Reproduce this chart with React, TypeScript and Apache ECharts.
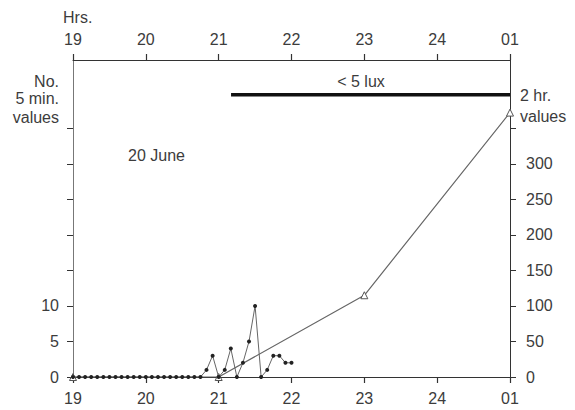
import React, { useEffect, useRef } from "react";
import * as echarts from "echarts";

// 5-minute counts, starting 19:00, one value every 5 minutes (left axis)
const fiveMinValues = [
  0, 0, 0, 0, 0, 0, 0, 0, 0, 0, 0, 0,
  0, 0, 0, 0, 0, 0, 0, 0, 0, 0,
  1, 3, 0, 1, 4, 0, 2, 5, 10, 0, 1, 3, 3, 2, 2,
];
// 2-hour values (right axis); hour 25 = 01
const twoHrHours = [19, 21, 23, 25];
const twoHrValues = [0, 0, 115, 372];
// "< 5 lux" period
const luxStart = 21.17;
const luxEnd = 25;
const luxLevel = 39.7;

const hourTicks = [19, 20, 21, 22, 23, 24, 25];
const hourLabels = ["19", "20", "21", "22", "23", "24", "01"];
const leftTicks = [0, 5, 10, 15, 20, 25, 30, 35];
const leftLabels = [0, 5, 10];
const rightTicks = [0, 50, 100, 150, 200, 250, 300, 350];
const rightLabels = [0, 50, 100, 150, 200, 250, 300];

const FONT = "Liberation Sans";
const TXT = "#3c3c3c";
const AX = "#333";
const FS = 16;

export default function App() {
  const ref = useRef<HTMLDivElement>(null);
  useEffect(() => {
    if (!ref.current) return;
    const chart = echarts.init(ref.current, null, { renderer: "svg" });
    const fmt = (v: number) => {
      const i = hourTicks.indexOf(Math.round(v));
      return i >= 0 ? hourLabels[i] : "";
    };
    const xAxisFor = (position: string) => ({
      type: "value",
      position,
      min: 19,
      max: 25,
      interval: 1,
      splitLine: { show: false },
      axisLine: { show: true, onZero: false, lineStyle: { color: AX, width: 1 } },
      axisTick: { show: true, inside: false, length: 6, customValues: hourTicks, lineStyle: { color: AX, width: 1.2 } },
      axisLabel: { formatter: fmt, color: TXT, fontFamily: FONT, fontSize: FS, margin: 13 },
    });
    const fiveMinData = fiveMinValues.map((v, i) => [19 + i / 12, v]);
    const twoHrData = twoHrHours.map((h, i) => [h, twoHrValues[i]]);
    const txt = (text: string, x: number, y: number, align: string) => ({
      type: "text",
      x,
      y,
      style: { text, font: `${FS}px ${FONT}`, fill: TXT, align, verticalAlign: "middle" },
    });
    chart.setOption({
      animation: false,
      backgroundColor: "#fff",
      grid: { left: 73, right: 65, top: 60, bottom: 33, containLabel: false, outerBoundsMode: "none" },
      xAxis: [xAxisFor("bottom"), xAxisFor("top")],
      yAxis: [
        {
          type: "value",
          position: "left",
          min: 0,
          max: 44.6,
          interval: 5,
          splitLine: { show: false },
          axisLine: { show: true, onZero: false, lineStyle: { color: "#777" } },
          axisTick: { show: true, length: 6, customValues: leftTicks, lineStyle: { color: AX } },
          axisLabel: { customValues: leftLabels, color: TXT, fontFamily: FONT, fontSize: FS, margin: 14 },
        },
        {
          type: "value",
          position: "right",
          min: 0,
          max: 446,
          interval: 50,
          splitLine: { show: false },
          axisLine: { show: true, onZero: false, lineStyle: { color: AX } },
          axisTick: { show: true, length: 6, customValues: rightTicks, lineStyle: { color: AX } },
          axisLabel: { customValues: rightLabels, color: TXT, fontFamily: FONT, fontSize: FS, margin: 16 },
        },
      ],
      series: [
        {
          type: "line",
          xAxisIndex: 0,
          yAxisIndex: 1,
          data: twoHrData,
          symbol: "triangle",
          symbolSize: 7,
          itemStyle: { color: "#fff", borderColor: "#555", borderWidth: 1 },
          lineStyle: { color: "#666", width: 1.2 },
          z: 2,
        },
        {
          type: "line",
          xAxisIndex: 0,
          yAxisIndex: 0,
          data: fiveMinData,
          symbol: "circle",
          symbolSize: 4,
          itemStyle: { color: "#222", borderWidth: 0 },
          lineStyle: { color: "#666", width: 1 },
          z: 3,
        },
        {
          type: "line",
          xAxisIndex: 0,
          yAxisIndex: 0,
          data: [
            [luxStart, luxLevel],
            [luxEnd, luxLevel],
          ],
          symbol: "none",
          lineStyle: { color: "#111", width: 3.5 },
          z: 4,
        },
      ],
      graphic: [
        txt("Hrs.", 63, 17, "left"),
        txt("No.", 59, 81, "right"),
        txt("5 min.", 59, 98, "right"),
        txt("values", 59, 117, "right"),
        txt("2 hr.", 520, 95, "left"),
        txt("values", 520, 116, "left"),
        txt("< 5 lux", 361, 81, "center"),
        txt("20 June", 128, 155, "left"),
      ],
    });
    return () => chart.dispose();
  }, []);
  return (
    <div
      ref={ref}
      style={{ position: "fixed", left: 0, top: 0, width: 575, height: 410 }}
    />
  );
}
